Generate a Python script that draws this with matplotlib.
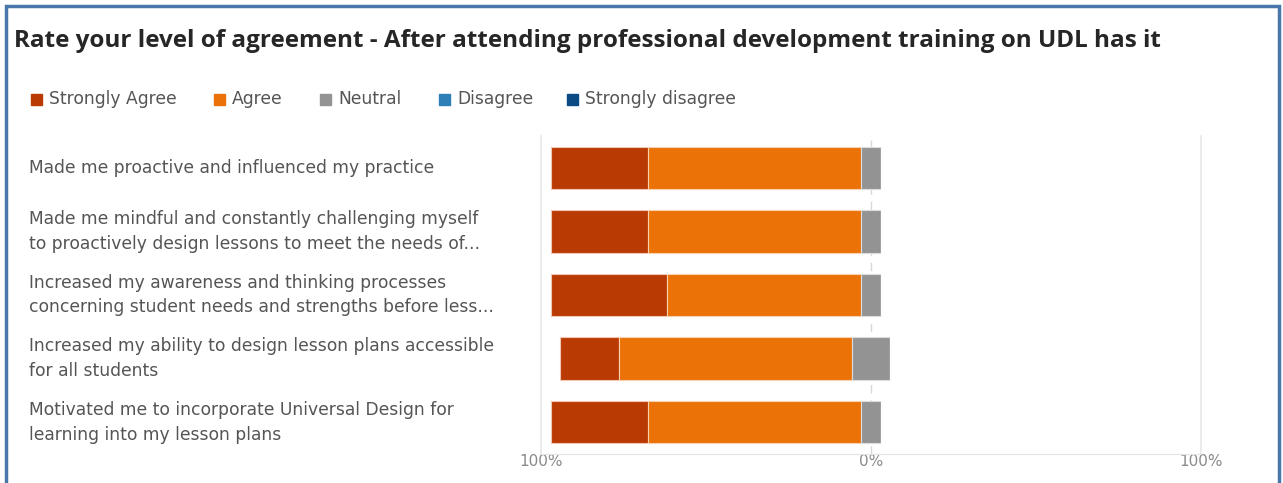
import numpy as np
import matplotlib
matplotlib.use("Agg")
import matplotlib.pyplot as plt
import matplotlib.transforms as mtransforms
from matplotlib.patches import Rectangle

plt.rcParams['font.family'] = ['DejaVu Sans']

title = "Rate your level of agreement - After attending professional development training on UDL has it"
questions = [
    "Made me proactive and influenced my practice",
    "Made me mindful and constantly challenging myself\nto proactively design lessons to meet the needs of...",
    "Increased my awareness and thinking processes\nconcerning student needs and strengths before less...",
    "Increased my ability to design lesson plans accessible\nfor all students",
    "Motivated me to incorporate Universal Design for\nlearning into my lesson plans",
]
levels = ["Strongly Agree", "Agree", "Neutral", "Disagree", "Strongly disagree"]
colors = ["#b93a02", "#ea7207", "#939393", "#2e7eb8", "#0b4a82"]

# percent of respondents per answer
strongly_agree = np.array([29.4, 29.4, 35.3, 17.6, 29.4])
agree = np.array([64.7, 64.7, 58.8, 70.6, 64.7])
neutral = np.array([5.9, 5.9, 5.9, 11.8, 5.9])
disagree = np.array([0.0, 0.0, 0.0, 0.0, 0.0])
strongly_disagree = np.array([0.0, 0.0, 0.0, 0.0, 0.0])

W, H = 1283, 483
fig = plt.figure(figsize=(W / 100, H / 100), dpi=100)
ax = fig.add_axes([541 / W, 29 / H, 660 / W, 318 / H])

y = np.arange(len(questions))
h = 0.665
# agreement goes to the left, neutral straddles zero
left_sa = -(strongly_agree + agree + neutral / 2)
left_a = -(agree + neutral / 2)
left_n = -neutral / 2
left_d = neutral / 2
left_sd = neutral / 2 + disagree
kw = dict(height=h, linewidth=0.8, zorder=3)
ax.barh(y, strongly_agree, left=left_sa, color=colors[0], edgecolor='#f0c8b4', **kw)
ax.barh(y, agree, left=left_a, color=colors[1], edgecolor='#f8d2b0', **kw)
ax.barh(y, neutral, left=left_n, color=colors[2], edgecolor='#dcdcdc', **kw)
ax.barh(y, disagree, left=left_d, color=colors[3], edgecolor='white', **kw)
ax.barh(y, strongly_disagree, left=left_sd, color=colors[4], edgecolor='white', **kw)

ax.set_xlim(-100, 100)
ax.set_ylim(len(questions) - 0.5, -0.5)
ax.axvline(-100, color='#e8e8e8', lw=1.2, zorder=1, clip_on=False)
ax.axvline(100, color='#e8e8e8', lw=1.2, zorder=1, clip_on=False)
ax.axvline(0, color='#d8d8d8', lw=1.0, ls=(0, (6, 5)), zorder=1)
for s in ['top', 'right', 'left']:
    ax.spines[s].set_visible(False)
ax.spines['bottom'].set_color('#e4e4e4')
ax.set_yticks([])
ax.set_xticks([-100, 0, 100])
ax.set_xticklabels(['100%', '0%', '100%'], color='#8a8a8a', fontsize=11)
ax.tick_params(axis='x', length=0, pad=0)

# question labels on the left
trans = mtransforms.blended_transform_factory(fig.transFigure, ax.transData)
for i, q in enumerate(questions):
    ax.text(29 / W, i, q, transform=trans, fontsize=12.3,
            color='#555555', va='center', ha='left', linespacing=1.48)

fig.text(14 / W, 1 - 41 / H, title, fontsize=17.5, fontweight='bold',
         family='Open Sans', color='#262626', va='center', ha='left')

# legend row
legend_x = [31, 214, 320, 439, 567]
for lx, lab, c in zip(legend_x, levels, colors):
    fig.patches.append(Rectangle((lx / W, 1 - 104.5 / H), 11 / W, 11 / H,
                                 transform=fig.transFigure, color=c))
    fig.text((lx + 18) / W, 1 - 99.5 / H, lab, fontsize=12.3, color='#555555',
             va='center', ha='left')

# blue frame
fig.patches.append(Rectangle((6 / W, -0.05), 1273 / W, 1.05 - 6 / H,
                             transform=fig.transFigure, fill=False,
                             edgecolor='#4a77a9', lw=2.5))

fig.savefig('out.png', dpi=100)
